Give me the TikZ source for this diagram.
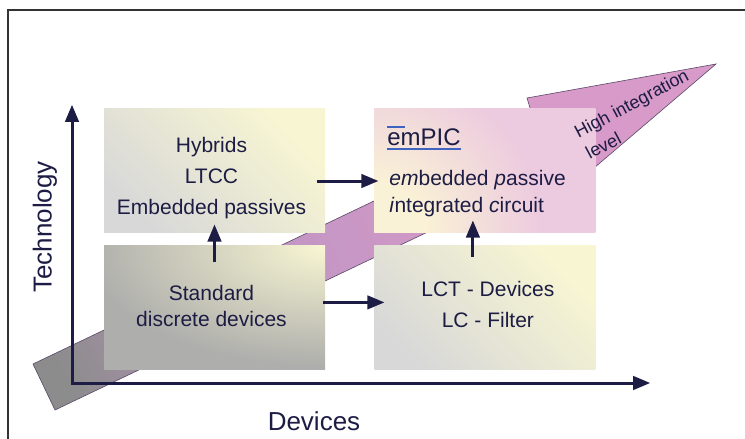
\documentclass[tikz,border=0pt]{standalone}
\usepackage{fontspec}
\setmainfont{Liberation Sans}
\usepackage{xcolor}
\usetikzlibrary{arrows,positioning,calc}

\definecolor{ink}{HTML}{1C1C44}
\definecolor{boxyellow}{HTML}{F8F6D2}
\definecolor{boxgrey}{HTML}{D8D8D8}
\definecolor{darkgrey}{HTML}{AEAEAC}
\definecolor{pinkbox}{HTML}{ECCADF}
\definecolor{paleyel}{HTML}{FAF2D6}
\definecolor{bandgrey}{HTML}{8C8C8C}
\definecolor{bandmid}{HTML}{A890AA}
\definecolor{bandmauve}{HTML}{C496C4}
\definecolor{bandpink}{HTML}{D89AC8}
\definecolor{bandline}{HTML}{5A4868}
\definecolor{titleblue}{HTML}{3F63C0}

\pgfdeclarehorizontalshading{bandshade}{100bp}{color(0bp)=(bandgrey); color(20bp)=(bandgrey); color(30bp)=(bandmid); color(44bp)=(bandmauve); color(62bp)=(bandpink); color(100bp)=(bandpink)}
\pgfdeclareradialshading{stdglow}{\pgfpoint{0bp}{0bp}}{color(0bp)=(boxyellow); color(20bp)=(darkgrey); color(50bp)=(darkgrey)}
\pgfdeclareradialshading{picglow}{\pgfpoint{0bp}{0bp}}{color(0bp)=(paleyel); color(4bp)=(paleyel); color(14bp)=(pinkbox); color(50bp)=(pinkbox)}

\begin{document}
\begin{tikzpicture}[x=1pt,y=-1pt,>=triangle 45,
	box node/.style={rectangle,inner sep=0pt,minimum width=221pt,minimum height=124pt},
	text node/.style={inner sep=0pt,text=ink,align=center,font=\fontsize{21}{31}\selectfont},
	link/.style={->,color=ink,line width=3pt},
	axis/.style={<->,draw=ink,line width=3pt,line join=miter}]

    \useasboundingbox (0,0) rectangle (745,439);
    \draw[black!80,line width=1.5pt] (8,439) -- (8,10) -- (745,10);

    % integration level arrow
    \shadedraw[shading=bandshade,shading angle=25.5,draw=bandline,line width=.6pt]
      (33,364) -- (535,124) -- (527,98) -- (716,64) -- (560,197) -- (570,164) -- (55,410) -- cycle;

    \node[box node,top color=boxyellow,bottom color=boxgrey,shading angle=-45] (H) at (214.5,170.5) {};
    \node[box node,fill=darkgrey,path picture={\shade[shading=stdglow]
      (path picture bounding box.north east) ellipse (300pt and 150pt);}] (S) [below=13pt of H] {};
    \node[box node,fill=pinkbox,path picture={\shade[shading=picglow]
      (path picture bounding box.south west) circle (300pt);}] (E) [right=49pt of H] {};
    \node[box node,top color=boxyellow,bottom color=boxgrey,shading angle=-45] (L) [below=13pt of E] {};

    \node[text node] (Ht) at ([xshift=-3pt,yshift=-7.5pt]H.center) {Hybrids\\LTCC\\Embedded passives};
    \node[text node,font=\fontsize{21}{26}\selectfont] (St) at ([xshift=-3pt,yshift=1.5pt]S.center) {Standard\\discrete devices};
    \node[text node] (Lt) at ([xshift=3pt,yshift=3pt]L.center) {LCT - Devices\\LC - Filter};

    \node[inner sep=0pt,anchor=base west,text=ink,font=\fontsize{24}{28}\selectfont] (T) at ([xshift=13pt,yshift=24.9pt]E.west) {emPIC};
    \node[text node,align=left,anchor=north west,font=\fontsize{21}{26.5}\selectfont] (Et) at ([xshift=15pt]E.west)
      {\textit{em}bedded \textit{p}assive\\\textit{i}ntegrated \textit{c}ircuit};
    \draw[titleblue,line width=1.8pt] ([yshift=-3.5pt]T.base west) -- ([yshift=-3.5pt]T.base east);
    \draw[titleblue,line width=1.8pt] ([yshift=1.5pt]T.north west) -- ([xshift=18pt,yshift=1.5pt]T.north west);

    \node[text=ink,align=left,rotate=28,inner sep=0pt,font=\fontsize{18}{24}\selectfont] (lvl) at (637,114) {High integration\\level};

    \path[link]
	([xshift=-8pt,yshift=-10.5pt]H.east) edge ([xshift=4pt,yshift=-10.5pt]E.west)
	([xshift=-2pt,yshift=5.5pt]S.east) edge ([xshift=10pt,yshift=5.5pt]L.west)
	([yshift=-16pt]S.north) edge ([yshift=8pt]H.south)
	([xshift=-12pt,yshift=-11pt]L.north) edge ([xshift=-12pt,yshift=12pt]E.south);

    % axes
    \coordinate (O) at (72,383);
    \coordinate (Ytip) at (72,105);
    \coordinate (Xtip) at (650,383);
    \draw[axis] (Ytip) -- (O) -- (Xtip);
    \node[text=ink,rotate=90,font=\fontsize{26}{30}\selectfont] (tech) at (45,227) {Technology};
    \node[text=ink,font=\fontsize{26}{30}\selectfont] (dev) at (314,421) {Devices};

\end{tikzpicture}
\end{document}
